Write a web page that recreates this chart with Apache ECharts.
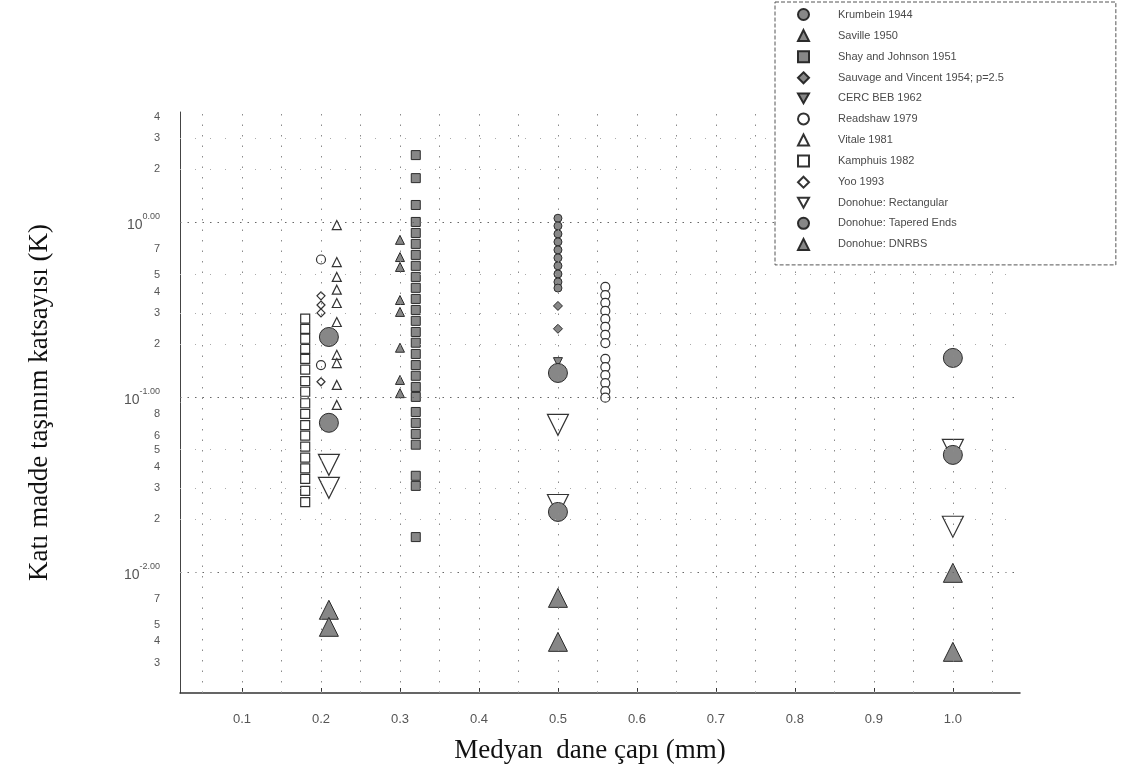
<!DOCTYPE html>
<html><head><meta charset="utf-8">
<script src="https://cdn.jsdelivr.net/npm/echarts@6/dist/echarts.min.js"></script>
<style>html,body{margin:0;padding:0;background:#fff}#c{width:1124px;height:783px}</style>
</head><body><div id="c"></div>
<script>
// ---- axis ticks / labels ----
const xTickValues = [0.1,0.2,0.3,0.4,0.5,0.6,0.7,0.8,0.9,1.0];
const xTickLabels = ['0.1','0.2','0.3','0.4','0.5','0.6','0.7','0.8','0.9','1.0'];
const yLabelValues = [0.003,0.004,0.005,0.007,0.01,0.02,0.03,0.04,0.05,0.06,0.08,0.1,0.2,0.3,0.4,0.5,0.7,1,2,3,4];
const xGridValues = [0.05,0.1,0.15,0.2,0.25,0.3,0.35,0.4,0.45,0.5,0.55,0.6,0.65,0.7,0.75,0.8,0.85,0.9,0.95,1.0,1.05];
const yMajorGrid = [0.01,0.1,1];
const yMinorGrid = [0.003,0.005,0.02,0.03,0.05,0.2,0.3,0.5,2,3];

// ---- series data: [median grain size (mm), K] ----
const krumbein = [[0.5,1.05],[0.5,0.949],[0.5,0.854],[0.5,0.769],[0.5,0.692],[0.5,0.623],[0.5,0.561],[0.5,0.504],[0.5,0.454],[0.5,0.419]];
const saville = [[0.3,0.79],[0.3,0.63],[0.3,0.553],[0.3,0.358],[0.3,0.306],[0.3,0.191],[0.3,0.125],[0.3,0.105]];
const shayJohnson = [[0.32,2.41],[0.32,1.78],[0.32,1.25],[0.32,1.0],[0.32,0.865],[0.32,0.749],[0.32,0.648],[0.32,0.561],[0.32,0.485],[0.32,0.42],[0.32,0.363],[0.32,0.314],[0.32,0.272],[0.32,0.235],[0.32,0.204],[0.32,0.176],[0.32,0.152],[0.32,0.132],[0.32,0.114],[0.32,0.1],[0.32,0.082],[0.32,0.071],[0.32,0.0614],[0.32,0.0533],[0.32,0.0354],[0.32,0.031],[0.32,0.0158]];
const sauvage = [[0.5,0.331],[0.5,0.245]];
const cerc = [[0.5,0.158]];
const readshaw = [[0.2,0.61],[0.2,0.152],[0.56,0.425],[0.56,0.382],[0.56,0.345],[0.56,0.31],[0.56,0.279],[0.56,0.251],[0.56,0.226],[0.56,0.203],[0.56,0.165],[0.56,0.148],[0.56,0.133],[0.56,0.12],[0.56,0.108],[0.56,0.099]];
const vitale = [[0.22,0.96],[0.22,0.59],[0.22,0.485],[0.22,0.41],[0.22,0.344],[0.22,0.268],[0.22,0.174],[0.22,0.156],[0.22,0.117],[0.22,0.09]];
const kamphuis = [[0.18,0.28],[0.18,0.245],[0.18,0.215],[0.18,0.188],[0.18,0.165],[0.18,0.143],[0.18,0.123],[0.18,0.107],[0.18,0.092],[0.18,0.08],[0.18,0.069],[0.18,0.06],[0.18,0.052],[0.18,0.045],[0.18,0.039],[0.18,0.034],[0.18,0.029],[0.18,0.025]];
const yoo = [[0.2,0.378],[0.2,0.335],[0.2,0.302],[0.2,0.122]];
const donRect = [[0.21,0.0409],[0.21,0.0302],[0.5,0.0692],[0.5,0.0241],[1.0,0.0498],[1.0,0.0181]];
const donTaper = [[0.21,0.22],[0.21,0.0711],[0.5,0.137],[0.5,0.022],[1.0,0.167],[1.0,0.0466]];
const donDnrbs = [[0.21,0.00607],[0.21,0.00485],[0.5,0.0071],[0.5,0.00398],[1.0,0.00987],[1.0,0.00349]];

const names = ['Krumbein 1944','Saville 1950','Shay and Johnson 1951','Sauvage and Vincent 1954; p=2.5','CERC BEB 1962','Readshaw 1979','Vitale 1981','Kamphuis 1982','Yoo 1993','Donohue: Rectangular','Donohue: Tapered Ends','Donohue: DNRBS'];

const DOWN = 'path://M0,0L10,0L5,9Z';
const FILL = '#878787', EDGE = '#2b2b2b';
function filled(name, data, symbol, size) {
  return {name, type:'scatter', data, symbol, symbolSize:size, z:3,
    itemStyle:{color:FILL, borderColor:EDGE, borderWidth:1, opacity:1}};
}
function open(name, data, symbol, size) {
  return {name, type:'scatter', data, symbol, symbolSize:size, z:3,
    itemStyle:{color:'#ffffff', borderColor:'#333', borderWidth:1.2, opacity:1}};
}

const chart = echarts.init(document.getElementById('c'), null, {renderer:'canvas'});
chart.setOption({
  animation:false,
  backgroundColor:'#ffffff',
  textStyle:{fontFamily:'Liberation Sans'},
  grid:{left:180, right:104, top:112, bottom:90, containLabel:false},
  legend:{
    orient:'vertical', left:775, top:2, z:10,
    padding:[6,112,14,22], itemGap:8.1, itemWidth:11, itemHeight:11,
    backgroundColor:'#ffffff',
    borderColor:'#555', borderWidth:1, borderType:'dashed',
    data:names,
    textStyle:{color:'#4a4a4a', fontSize:11, padding:[0,0,0,24], fontFamily:'Liberation Sans'}
  },
  xAxis:{
    type:'value', min:0.0215, max:1.085,
    name:'Medyan  dane çapı (mm)', nameLocation:'middle', nameGap:44,
    nameTextStyle:{fontFamily:'Liberation Serif', fontSize:27, color:'#111', padding:[0,20,0,0]},
    axisLine:{show:true, onZero:false, lineStyle:{color:'#333', width:1.5}},
    axisTick:{show:true, inside:true, length:5, customValues:xTickValues, lineStyle:{color:'#333'}},
    axisLabel:{customValues:xTickValues, margin:20, fontSize:13, color:'#555',
      formatter:function(v){ const i = xTickValues.findIndex(t=>Math.abs(t-v)<1e-6); return i>=0 ? xTickLabels[i] : ''; }},
    splitLine:{show:false}
  },
  yAxis:{
    type:'log', logBase:10, min:0.00203, max:4.25,
    name:'Katı madde taşınım katsayısı (K)', nameLocation:'middle', nameGap:127, nameRotate:90,
    nameTextStyle:{fontFamily:'Liberation Serif', fontSize:27, color:'#111'},
    axisLine:{show:true, onZero:false, lineStyle:{color:'#444', width:1}},
    axisTick:{show:false},
    axisLabel:{customValues:yLabelValues, margin:20, color:'#555',
      formatter:function(v){
        const e = Math.log10(v);
        if (Math.abs(e-Math.round(e))<1e-6) return '{b|10}{s|'+Math.round(e).toFixed(2)+'}';
        const d = Math.round(v/Math.pow(10, Math.floor(e+1e-9)));
        return '{d|'+d+'}';
      },
      rich:{
        b:{fontSize:14, lineHeight:20, verticalAlign:'bottom', color:'#555'},
        s:{fontSize:9, lineHeight:20, verticalAlign:'top', color:'#555'},
        d:{fontSize:11, color:'#555'}
      }},
    splitLine:{show:false}, minorSplitLine:{show:false}
  },
  series:[
    {name:'grid', type:'scatter', data:[], silent:true, z:1,
      markLine:{silent:true, symbol:['none','none'], label:{show:false}, animation:false,
        data:[].concat(
          xGridValues.map(v=>({xAxis:v, lineStyle:{color:'#8a8a8a', width:1, type:[1.5,9]}})),
          yMajorGrid.map(v=>({yAxis:v, lineStyle:{color:'#666', width:1, type:[1.5,6]}})),
          yMinorGrid.map(v=>({yAxis:v, lineStyle:{color:'#aaa', width:1, type:[1,14]}}))
        )}},
    filled(names[0], krumbein, 'circle', 8),
    filled(names[1], saville, 'triangle', 9),
    filled(names[2], shayJohnson, 'rect', 9),
    filled(names[3], sauvage, 'diamond', 9),
    filled(names[4], cerc, DOWN, 9),
    open(names[5], readshaw, 'circle', 9),
    open(names[6], vitale, 'triangle', 9),
    open(names[7], kamphuis, 'rect', 9),
    open(names[8], yoo, 'diamond', 8),
    open(names[9], donRect, DOWN, 21),
    filled(names[10], donTaper, 'circle', 19),
    filled(names[11], donDnrbs, 'triangle', 19)
  ]
});
</script></body></html>
